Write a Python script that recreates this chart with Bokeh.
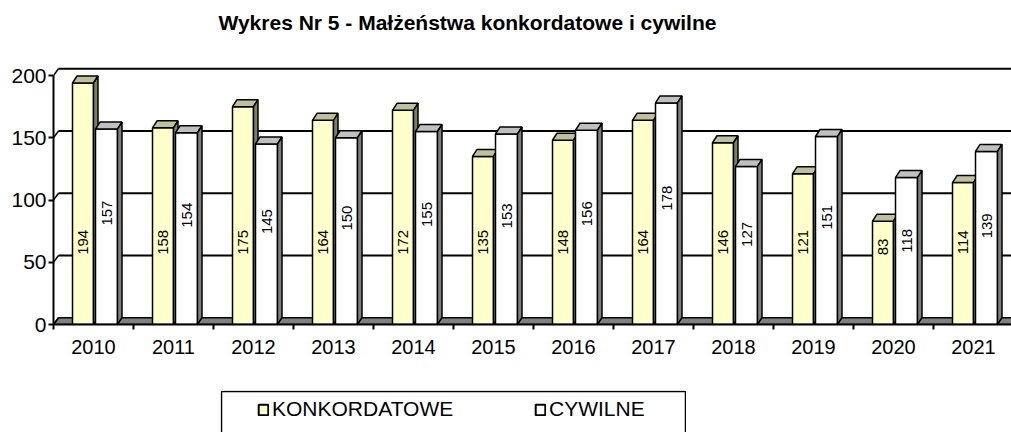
import math
from bokeh.plotting import figure
from bokeh.models import Range1d, FixedTicker, ColumnDataSource, Legend, LegendItem, Spacer, Title
from bokeh.layouts import column, row
from bokeh.embed import file_html
from bokeh.resources import INLINE
from bokeh.core.properties import value

# ---------------- data ----------------
years = ["2010", "2011", "2012", "2013", "2014", "2015",
         "2016", "2017", "2018", "2019", "2020", "2021"]
konkordatowe = [194, 158, 175, 164, 172, 135, 148, 164, 146, 121, 83, 114]
cywilne = [157, 154, 145, 150, 155, 153, 156, 178, 127, 151, 118, 139]
y_ticks = [0, 50, 100, 150, 200]
series_names = ["KONKORDATOWE", "CYWILNE"]
title_text = "Wykres Nr 5 - Małżeństwa konkordatowe i cywilne"

# ---------------- style ----------------
FONT = "Liberation Sans"
YELLOW = "#FFFFCC"
YELLOW_TOP = "#C0C09A"
YELLOW_SIDE = "#7F7F66"
WHITE = "#FFFFFF"
WHITE_TOP = "#C0C0C0"
WHITE_SIDE = "#7F7F7F"
FLOOR = "#808080"

PX_X = 80.0      # pixels per category
PX_Y = 1.245     # pixels per unit
FRAME_W = 958
FRAME_H = 264
BAR_DX = 4.5 / PX_X
BAR_DY = 7.0 / PX_Y
WALL_DX = 5.0 / PX_X
WALL_DY = 6.7 / PX_Y

n = len(years)
idx = list(range(n))

p = figure(width=1011, height=390, output_backend="svg", toolbar_location=None,
           x_range=Range1d(-0.5, -0.5 + FRAME_W / PX_X),
           y_range=Range1d(0, FRAME_H / PX_Y),
           min_border_left=53, min_border_right=0, min_border_top=60, min_border_bottom=66,
           title=None)
p.outline_line_color = None
p.xgrid.visible = False
p.ygrid.visible = False

t = Title(text=title_text, align="left", offset=165, text_font=FONT,
          text_font_size="21px", text_font_style="bold", text_color="black",
          standoff=0, vertical_align="bottom",
          padding=dict(left=0, right=0, top=0, bottom=27))
p.add_layout(t, "above")

# floor
p.patch(x=[-0.5, n + 1, n + 1 + WALL_DX, -0.5 + WALL_DX],
        y=[0, 0, WALL_DY, WALL_DY], fill_color=FLOOR, line_color="black", line_width=1.5)

# back wall gridlines + left wall diagonals
grid_v = y_ticks[1:]
p.segment(x0=[-0.5 + WALL_DX] * len(grid_v), y0=[v + WALL_DY for v in grid_v],
          x1=[n + 1] * len(grid_v), y1=[v + WALL_DY for v in grid_v],
          line_color="black", line_width=2)
p.segment(x0=[-0.5] * len(y_ticks), y0=y_ticks,
          x1=[-0.5 + WALL_DX] * len(y_ticks), y1=[v + WALL_DY for v in y_ticks],
          line_color="black", line_width=1.5)


def draw_bars(vals, left_off, right_off, front, top, side):
    left = [i + left_off for i in idx]
    right = [i + right_off for i in idx]
    src = ColumnDataSource(dict(left=left, right=right, top=vals, bottom=[0] * n))
    r = p.quad(left="left", right="right", top="top", bottom="bottom", source=src,
               fill_color=front, line_color="black", line_width=1.5)
    top_xs = [[l, rr, rr + BAR_DX, l + BAR_DX] for l, rr in zip(left, right)]
    top_ys = [[v, v, v + BAR_DY, v + BAR_DY] for v in vals]
    p.patches(xs=top_xs, ys=top_ys, fill_color=top, line_color="black", line_width=1.5)
    side_xs = [[rr, rr + BAR_DX, rr + BAR_DX, rr] for rr in right]
    side_ys = [[0, BAR_DY, v + BAR_DY, v] for v in vals]
    p.patches(xs=side_xs, ys=side_ys, fill_color=side, line_color="black", line_width=1.5)
    return r


r_k = draw_bars(konkordatowe, -0.2625, 0.0, YELLOW, YELLOW_TOP, YELLOW_SIDE)
r_c = draw_bars(cywilne, 0.025, 0.3, WHITE, WHITE_TOP, WHITE_SIDE)

# value labels
k_label_y = [min(66, 0.75 * v) for v in konkordatowe]
c_label_y = [0.57 * v for v in cywilne]
p.text(x=[i - 0.13125 for i in idx], y=k_label_y, text=[str(v) for v in konkordatowe],
       angle=math.pi / 2, text_align="center", text_baseline="middle",
       text_font=value(FONT), text_font_size="15px", text_color="black")
p.text(x=[i + 0.1625 for i in idx], y=c_label_y, text=[str(v) for v in cywilne],
       angle=math.pi / 2, text_align="center", text_baseline="middle",
       text_font=value(FONT), text_font_size="15px", text_color="black")

# axes
xa = p.xaxis[0]
xa.ticker = FixedTicker(ticks=idx, minor_ticks=[i - 0.5 for i in range(n + 1)])
xa.major_label_overrides = {i: y for i, y in enumerate(years)}
xa.major_tick_out = 0
xa.major_tick_in = 0
xa.minor_tick_out = 5
xa.minor_tick_in = 0
xa.minor_tick_line_color = "black"
xa.minor_tick_line_width = 2
xa.axis_line_color = "black"
xa.axis_line_width = 2
xa.major_label_text_font = FONT
xa.major_label_text_font_size = "20px"
xa.major_label_text_color = "black"
xa.major_label_standoff = 10

ya = p.yaxis[0]
ya.ticker = FixedTicker(ticks=y_ticks)
ya.bounds = (0, 200)
ya.major_tick_out = 5
ya.major_tick_in = 0
ya.minor_tick_out = 0
ya.major_tick_line_color = "black"
ya.major_tick_line_width = 2
ya.axis_line_color = "black"
ya.axis_line_width = 2
ya.major_label_text_font = FONT
ya.major_label_text_font_size = "21px"
ya.major_label_text_color = "black"
ya.major_label_standoff = 2

# legend figure (box open at the bottom, as in the cropped original)
LEG_W, LEG_H = 466, 42
leg = figure(width=LEG_W, height=LEG_H, output_backend="svg", toolbar_location=None,
             x_range=Range1d(0, LEG_W), y_range=Range1d(0, LEG_H),
             x_axis_type=None, y_axis_type=None, min_border=0)
leg.outline_line_color = None
leg.line(x=[1, 1, LEG_W - 1, LEG_W - 1], y=[-5, LEG_H - 1, LEG_H - 1, -5],
         line_color="black", line_width=1.5)
lr1 = leg.quad(left=[-30], right=[-20], top=[-20], bottom=[-30], fill_color=YELLOW, line_color="black", line_width=2)
lr2 = leg.quad(left=[-30], right=[-20], top=[-20], bottom=[-30], fill_color=WHITE, line_color="black", line_width=2)
legend = Legend(items=[LegendItem(label=series_names[0], renderers=[lr1]),
                       LegendItem(label=series_names[1], renderers=[lr2])],
                orientation="horizontal", location=(37, 11),
                border_line_color=None, background_fill_alpha=0,
                padding=0, margin=0, spacing=76,
                glyph_width=12, glyph_height=13, label_standoff=3, label_width=186,
                label_text_font=FONT, label_text_font_size="21px", label_text_color="black")
leg.add_layout(legend)

layout = column(p, row(Spacer(width=220, height=LEG_H), leg))

open("out.html", "w").write(file_html(layout, INLINE))
